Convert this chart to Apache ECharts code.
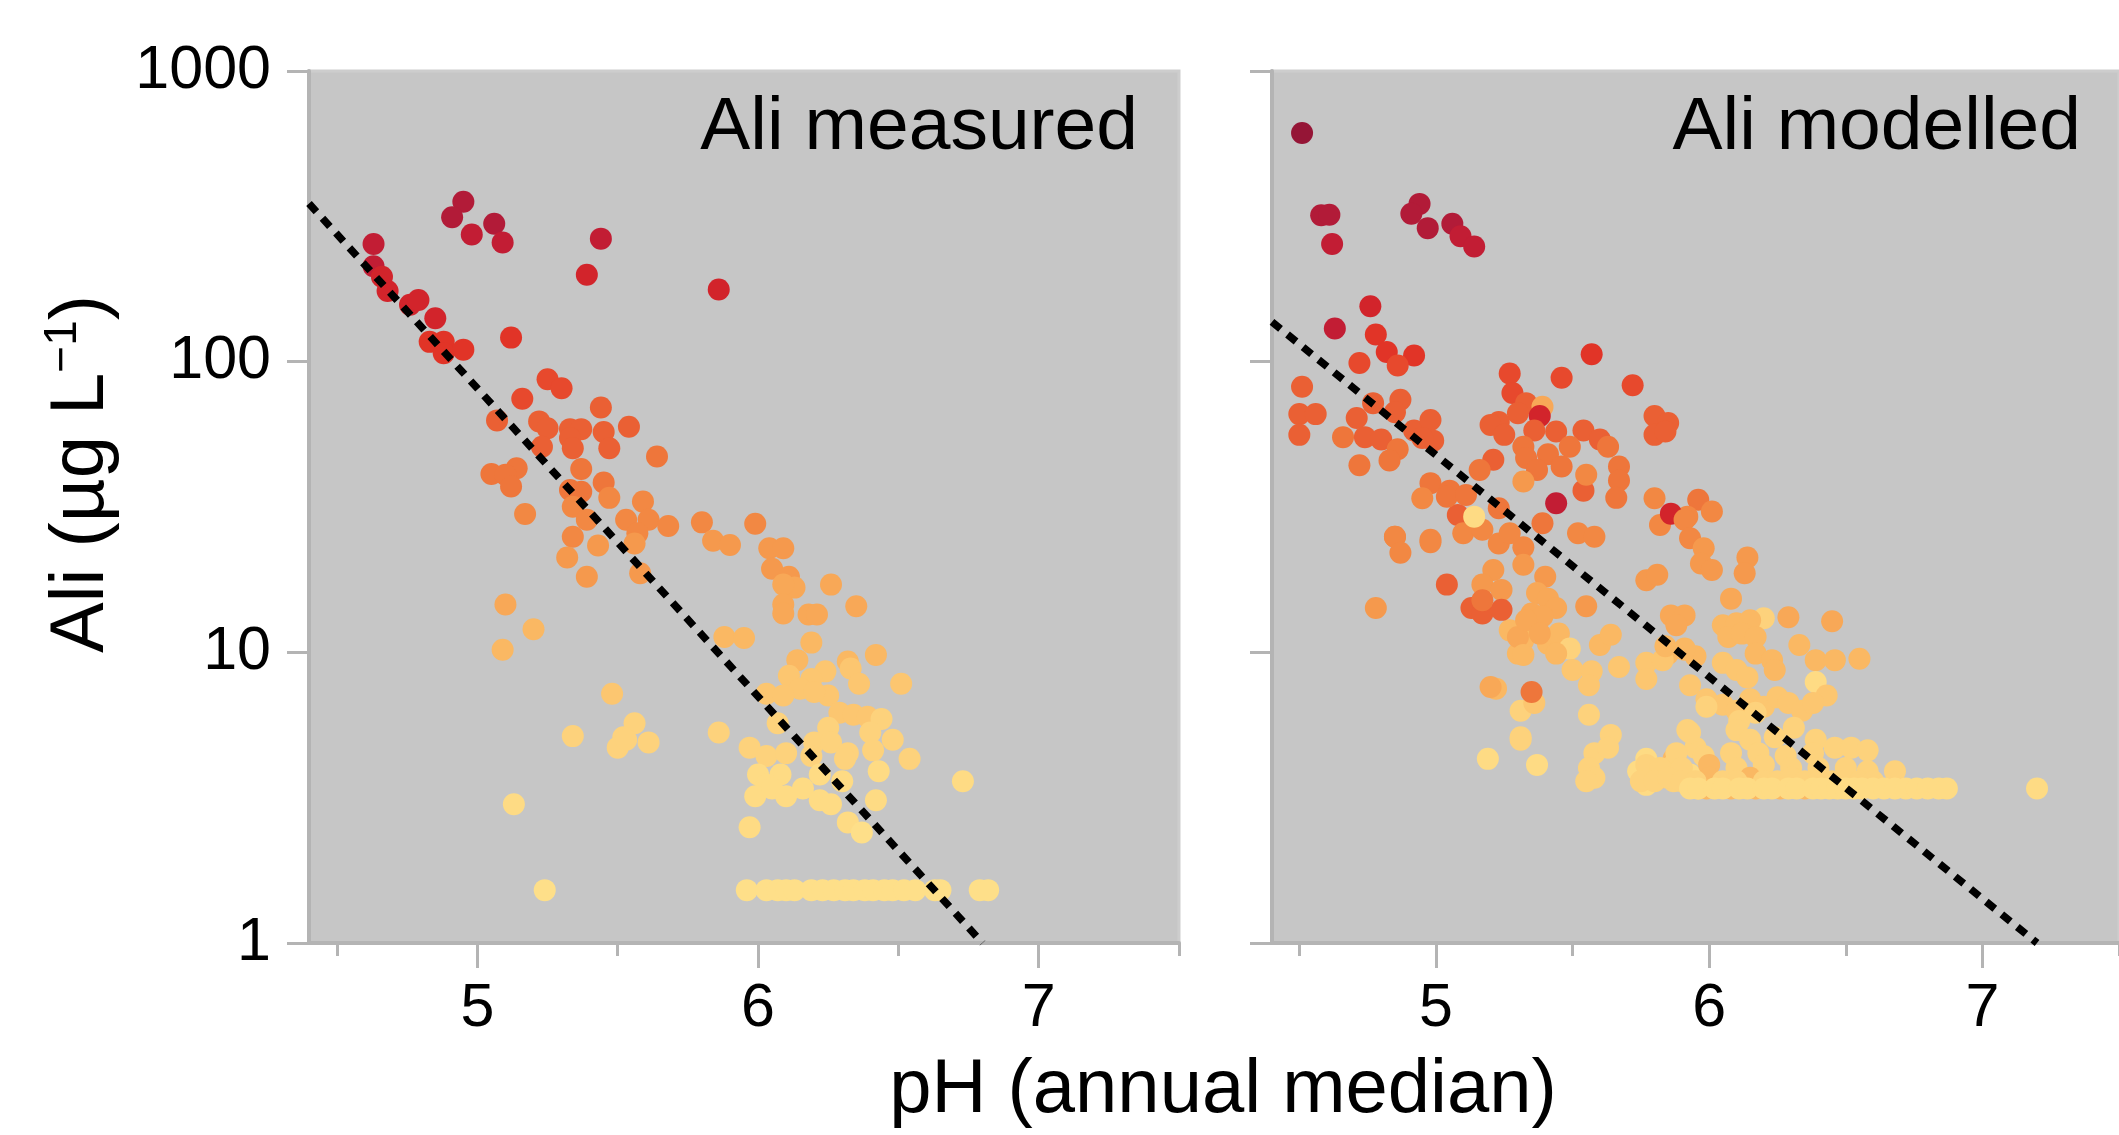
<!DOCTYPE html>
<html>
<head>
<meta charset="utf-8">
<title>Ali vs pH</title>
<script src="https://cdnjs.cloudflare.com/ajax/libs/echarts/6.0.0/echarts.min.js"></script>
<style>
  html, body { margin: 0; padding: 0; background: #fff; }
  #chart { width: 2119px; height: 1135px; }
</style>
</head>
<body>
<div id="chart"></div>
<script>
// measured Ali: [pH, Ali]
const measured = [
  [4.95, 355], [4.91, 314], [4.98, 274], [5.06, 298], [5.09, 257], [5.44, 265], [5.39, 199], [5.86, 177],
  [4.63, 254], [4.63, 213], [4.66, 196], [4.68, 175], [4.76, 157], [4.79, 163], [4.85, 141], [4.83, 117],
  [4.88, 117], [4.88, 107], [4.95, 110], [5.12, 121],
  [5.25, 87], [5.30, 81], [5.16, 74.5], [5.44, 69.5], [5.07, 62.8], [5.22, 62.3], [5.25, 59], [5.54, 59.7],
  [5.33, 58.6], [5.37, 58.6], [5.45, 57.3], [5.33, 54.6], [5.23, 51], [5.34, 50.4], [5.47, 50.4], [5.64, 47.2],
  [5.05, 41.1], [5.14, 43], [5.10, 40.8], [5.12, 37.2], [5.37, 42.7], [5.45, 38.4], [5.47, 34], [5.33, 36.2],
  [5.37, 35.7], [5.34, 31.7], [5.59, 33], [5.17, 29.9], [5.39, 28.6], [5.53, 28.6], [5.61, 28.6], [5.68, 27.2],
  [5.80, 28], [5.99, 27.7], [5.57, 25.7], [5.34, 25], [5.84, 24.2], [5.90, 23.4], [5.43, 23.3], [5.56, 23.7],
  [5.32, 21.2], [5.39, 18.2], [5.58, 18.7], [5.10, 14.6],
  [6.04, 22.8], [6.09, 22.8], [6.05, 19.4], [6.11, 18.2], [6.13, 16.7], [6.09, 17.1], [6.26, 17.1], [6.35, 14.4],
  [6.09, 14.6], [6.09, 13.6], [6.18, 13.5], [6.21, 13.5], [5.88, 11.3], [5.95, 11.2], [6.19, 10.8], [6.42, 9.8],
  [6.14, 9.4], [6.32, 9.3], [6.24, 8.6], [6.33, 8.8], [6.11, 8.3], [6.36, 7.8], [6.51, 7.8], [6.19, 8.1],
  [6.15, 7.5], [6.25, 7.1], [6.03, 7.2], [6.09, 7.1], [6.20, 7.3], [5.48, 7.2], [6.29, 6.2], [6.34, 6.1],
  [6.39, 6.0], [6.44, 5.9], [6.07, 5.7], [6.25, 5.5], [6.40, 5.3], [6.48, 5.0], [5.56, 5.7], [5.52, 5.1],
  [5.61, 4.9], [5.50, 4.7], [5.86, 5.3], [6.20, 4.9], [6.26, 4.9], [5.97, 4.7], [6.03, 4.4], [6.10, 4.5],
  [6.32, 4.5], [6.41, 4.6], [6.54, 4.3], [6.31, 4.3], [6.19, 4.4], [6.00, 3.8], [6.08, 3.8], [6.03, 3.5],
  [5.99, 3.2], [6.05, 3.4], [6.10, 3.2], [6.16, 3.4], [6.22, 3.8], [6.43, 3.9], [6.30, 3.6], [6.22, 3.1],
  [6.26, 3.0], [6.42, 3.1], [6.73, 3.6], [5.97, 2.5], [6.32, 2.6], [6.37, 2.4],
  [5.20, 12.0], [5.09, 10.2], [5.34, 5.15], [5.53, 5.0], [5.13, 3.0],
  [5.24, 1.52], [5.96, 1.52], [6.03, 1.52], [6.07, 1.52], [6.10, 1.52], [6.13, 1.52], [6.19, 1.52], [6.23, 1.52],
  [6.27, 1.52], [6.31, 1.52], [6.34, 1.52], [6.38, 1.52], [6.41, 1.52], [6.45, 1.52], [6.48, 1.52], [6.52, 1.52],
  [6.56, 1.52], [6.63, 1.52], [6.65, 1.52], [6.79, 1.52], [6.82, 1.52]
];

// modelled Ali: [pH, Ali modelled, Ali measured (colour)]
const modelled = [
  [4.51, 612, 612], [4.58, 319, 300], [4.61, 320, 300], [4.62, 254, 260], [4.94, 349, 300], [4.91, 323, 300],
  [4.97, 288, 280], [5.06, 298, 280], [5.09, 270, 260], [5.14, 249, 250],
  [4.76, 155, 150], [4.63, 130, 250], [4.78, 124, 120], [4.82, 108, 100], [4.92, 105, 100], [4.86, 97, 90],
  [4.72, 99, 70], [4.51, 82, 65], [5.57, 106, 110], [5.27, 91, 80], [5.46, 88, 80], [5.72, 83, 75],
  [4.50, 66, 55], [4.56, 66, 55], [4.50, 56, 50], [4.71, 64, 50], [4.66, 55, 45], [4.74, 55, 50], [4.77, 72, 60],
  [4.87, 74, 60], [4.85, 67, 60], [4.80, 54, 50], [4.86, 50, 45], [4.83, 45.7, 40], [4.72, 44, 40], [4.92, 58, 50],
  [4.98, 63, 55], [4.99, 53.5, 50], [4.95, 54.6, 50],
  [5.28, 78, 70], [5.33, 72, 65], [5.30, 66.5, 60], [5.23, 62, 55], [5.20, 60.6, 55], [5.25, 56, 60],
  [5.39, 70, 15], [5.38, 65, 150], [5.36, 58, 50], [5.44, 57.5, 55], [5.54, 58, 50], [5.60, 54, 50], [5.63, 51, 45],
  [5.32, 51, 45], [5.41, 48, 45], [5.49, 51, 45], [5.46, 43.6, 40], [5.33, 46.6, 40], [5.37, 42.4, 40],
  [5.54, 36, 60], [5.55, 40.8, 25], [5.67, 43.6, 40], [5.67, 39, 40], [5.66, 34, 35],
  [5.80, 65, 55], [5.85, 61.5, 55], [5.80, 56, 50], [5.84, 57.5, 50], [5.80, 33.9, 30], [5.96, 33.5, 35],
  [5.92, 29.3, 30], [5.82, 27.4, 30], [5.32, 38.7, 22], [5.21, 46, 50], [5.16, 42.4, 40],
  [4.98, 38.2, 35], [4.95, 33.9, 30], [5.05, 36, 35], [5.08, 29.7, 60], [5.23, 31.3, 35], [5.10, 25.7, 30],
  [5.17, 26.4, 28], [5.04, 34.3, 40], [5.11, 34.8, 35], [4.85, 25, 30], [4.98, 24.4, 25], [5.32, 23, 30],
  [5.52, 25.7, 28], [5.58, 25, 28], [5.39, 27.8, 35], [5.14, 29.3, 3], [5.44, 32.6, 200], [5.86, 30, 150],
  [6.01, 30.5, 28], [5.91, 28.6, 28], [5.93, 24.7, 25], [5.98, 22.8, 22], [5.97, 20.2, 22], [6.01, 19.2, 20],
  [6.14, 21.2, 22], [6.13, 18.7, 20], [5.77, 17.7, 18], [5.81, 18.5, 18], [6.08, 15.3, 16], [5.86, 13.4, 14],
  [5.91, 13.4, 14], [5.88, 12.4, 13], [6.20, 13.1, 5], [6.29, 13.2, 13], [6.45, 12.8, 13], [6.05, 12.4, 12],
  [6.10, 12.6, 12], [6.15, 12.9, 12], [6.07, 11.3, 11], [6.12, 11.6, 11], [6.17, 11.3, 11], [6.33, 10.6, 10],
  [6.39, 9.4, 9], [6.46, 9.4, 9], [6.55, 9.5, 9], [6.17, 9.9, 9], [6.23, 9.4, 9], [6.24, 8.7, 9], [6.39, 7.9, 3],
  [6.43, 7.1, 6], [6.05, 9.2, 8], [6.10, 8.7, 8], [6.14, 8.2, 8], [5.91, 10.2, 9], [5.95, 9.7, 9], [5.85, 9.9, 9],
  [5.77, 9.2, 8], [5.77, 8.1, 8], [5.93, 7.7, 7],
  [5.99, 6.9, 6], [6.05, 6.6, 6], [6.10, 6.3, 6], [6.15, 6.9, 6], [6.20, 6.5, 6], [6.25, 7.0, 6], [6.29, 6.7, 6],
  [6.34, 6.3, 6], [6.38, 6.7, 6], [6.11, 5.8, 5], [6.17, 6.2, 5],
  [5.32, 20, 22], [5.40, 18.2, 20], [5.37, 16, 16], [5.41, 15.3, 16], [5.44, 14.2, 16], [5.35, 13.6, 16],
  [5.39, 13.3, 16], [5.55, 14.4, 20], [5.27, 11.9, 11], [5.32, 11, 11], [5.30, 9.9, 11], [5.41, 10.7, 11],
  [5.45, 11.6, 11], [5.49, 10.3, 5], [5.60, 10.6, 10], [5.64, 11.5, 10], [5.50, 8.7, 8], [5.57, 8.6, 8],
  [5.56, 7.7, 8], [5.67, 8.9, 8], [5.83, 9.4, 8], [5.31, 6.3, 5], [5.36, 6.7, 6], [5.56, 6.1, 5],
  [5.31, 5.1, 4], [5.64, 5.2, 4], [5.22, 7.5, 10], [5.35, 7.3, 40],
  [4.85, 25, 25], [4.87, 22, 25], [4.98, 23.9, 25], [5.23, 23.7, 28], [5.27, 25.7, 28], [5.21, 19.2, 22],
  [5.17, 17.1, 20], [5.24, 16.4, 20], [5.04, 17.1, 50], [4.78, 14.2, 18], [5.13, 14.2, 50], [5.17, 13.6, 50],
  [5.24, 14, 60], [5.17, 15.1, 40], [5.30, 11.3, 15], [5.33, 12.9, 15], [5.38, 11.6, 15], [5.32, 9.8, 12],
  [5.44, 9.9, 9], [5.20, 7.6, 15], [5.31, 5.0, 4], [5.19, 4.3, 3.5], [5.37, 4.1, 3.5],
  [5.58, 4.5, 4], [5.63, 4.7, 4], [5.56, 4.0, 4], [5.58, 3.7, 4], [5.55, 3.6, 4],
  [5.74, 3.9, 3.5], [5.77, 4.3, 3.5], [5.77, 3.5, 3.5], [5.82, 3.7, 3.5], [5.87, 3.7, 3.5], [5.87, 4.3, 10],
  [5.93, 3.8, 3.5], [5.96, 3.4, 3.5], [5.92, 5.4, 5], [5.95, 4.7, 5], [5.99, 6.5, 5], [5.84, 10.5, 10], [5.91, 10.3, 10],
  [5.93, 5.3, 5], [6.10, 5.4, 5], [6.15, 5.0, 5], [6.24, 5.1, 5], [6.31, 5.5, 5], [6.39, 5.0, 5], [6.46, 4.7, 5],
  [6.52, 4.7, 5], [6.58, 4.6, 5], [6.58, 3.9, 4], [6.68, 3.9, 4],
  [5.77, 4.1, 4], [5.82, 3.7, 12], [5.87, 4.1, 4], [5.87, 3.6, 4],
  [5.88, 4.5, 5], [5.98, 4.4, 5], [6.08, 4.5, 5], [6.18, 4.5, 5], [6.28, 4.4, 5], [6.38, 4.5, 5],
  [5.82, 4.0, 4], [5.90, 4.0, 4], [6.00, 4.1, 10], [6.10, 4.0, 4], [6.20, 4.1, 4], [6.30, 4.0, 4], [6.40, 4.0, 4], [6.50, 4.0, 4],
  [5.99, 3.4, 10], [6.08, 3.4, 9], [6.17, 3.4, 11], [6.26, 3.4, 9], [6.35, 3.4, 10], [6.00, 3.7, 9], [6.15, 3.7, 10],
  [5.75, 3.6, 4], [5.80, 3.6, 4], [5.85, 3.7, 4], [5.90, 3.6, 4], [5.95, 3.6, 4], [6.05, 3.6, 4],
  [6.10, 3.6, 4], [6.20, 3.6, 4], [6.25, 3.6, 4], [6.30, 3.7, 4], [6.35, 3.6, 4], [6.40, 3.6, 4],
  [6.45, 3.6, 4], [6.50, 3.6, 4], [6.55, 3.6, 4], [6.60, 3.6, 4],
  [5.93, 3.4, 3], [5.96, 3.4, 3], [6.02, 3.4, 3], [6.05, 3.4, 3], [6.11, 3.4, 3],
  [6.14, 3.4, 3], [6.20, 3.4, 3], [6.23, 3.4, 3], [6.29, 3.4, 3], [6.32, 3.4, 3],
  [6.38, 3.4, 3], [6.41, 3.4, 3], [6.44, 3.4, 3], [6.47, 3.4, 3], [6.50, 3.4, 3], [6.53, 3.4, 3],
  [6.56, 3.4, 3], [6.60, 3.4, 3], [6.64, 3.4, 3], [6.68, 3.4, 3], [6.72, 3.4, 3], [6.76, 3.4, 3], [6.80, 3.4, 3],
  [6.84, 3.4, 3], [6.87, 3.4, 3], [7.20, 3.4, 3]
];

// regression lines (end points)
const fitMeasured = [[4.4, 350], [6.8, 1]];
const fitModelled = [[4.4, 137], [7.2, 1]];

const xMajorTicks = [5, 6, 7];
const xMinorTicks = [4.5, 5.5, 6.5, 7.5];
const panelTitles = ['Ali measured', 'Ali modelled'];

// colour classes (Ali, µg/L) - YlOrRd
const colourBreaks = [2.5, 4, 6, 9, 13, 18, 25, 35, 50, 70, 100, 140, 200, 280, 400];
const colourRamp = ['#fedf89', '#fedb84', '#fdd27c', '#fcc670', '#fab863', '#f8a857', '#f5994d', '#f28843',
  '#ee763b', '#ea6034', '#e7492d', '#e13427', '#d2242b', '#c21d34', '#b21b38', '#951536'];

const FONT = "'Liberation Sans', Arial, sans-serif";
const AXIS_GREY = '#b4b4b4';

const pieces = colourRamp.map((c, i) => {
  const p = { color: c };
  if (i > 0) p.gte = colourBreaks[i - 1];
  if (i < colourBreaks.length) p.lt = colourBreaks[i];
  return p;
});

const chart = echarts.init(document.getElementById('chart'));

const gridLefts = [309, 1272];

const xAxes = [];
const yAxes = [];
gridLefts.forEach((l, i) => {
  xAxes.push({
    gridIndex: i, type: 'value', position: 'bottom', min: 4.4, max: 7.5,
    axisLine: { show: true, onZero: false, lineStyle: { color: AXIS_GREY, width: 4 } },
    axisTick: { show: true, length: 25, customValues: xMajorTicks, lineStyle: { color: AXIS_GREY, width: 3 } },
    axisLabel: { customValues: xMajorTicks, fontSize: 61, margin: 36, color: '#000', fontFamily: FONT },
    splitLine: { show: false }
  });
  xAxes.push({
    gridIndex: i, type: 'value', position: 'bottom', min: 4.4, max: 7.5,
    axisLine: { show: false },
    axisTick: { show: true, length: 13, customValues: xMinorTicks, lineStyle: { color: AXIS_GREY, width: 3 } },
    axisLabel: { show: false },
    splitLine: { show: false }
  });
  yAxes.push({
    gridIndex: i, type: 'log', logBase: 10, min: 1, max: 1000,
    axisLine: { show: true, lineStyle: { color: AXIS_GREY, width: 4 } },
    axisTick: { show: true, length: 22, lineStyle: { color: AXIS_GREY, width: 3 } },
    axisLabel: {
      show: i === 0, fontSize: 61, margin: 38, color: '#000', fontFamily: FONT,
      formatter: v => String(Math.round(v))
    },
    splitLine: { show: false }
  });
});

const lineStyle = { color: '#000', width: 7.5, type: [11, 9] };

const option = {
  animation: false,
  grid: gridLefts.map(l => ({
    left: l, top: 71, width: 870, height: 872,
    show: true, backgroundColor: '#c6c6c6', borderColor: '#cdcdcd', borderWidth: 3
  })),
  xAxis: xAxes,
  yAxis: yAxes,
  visualMap: [
    { type: 'piecewise', show: false, seriesIndex: 0, dimension: 1, pieces: pieces },
    { type: 'piecewise', show: false, seriesIndex: 2, dimension: 2, pieces: pieces }
  ],
  series: [
    { type: 'scatter', xAxisIndex: 0, yAxisIndex: 0, data: measured, symbolSize: 22, itemStyle: { opacity: 1 } },
    { type: 'line', xAxisIndex: 0, yAxisIndex: 0, data: fitMeasured, showSymbol: false, lineStyle: lineStyle, z: 5 },
    { type: 'scatter', xAxisIndex: 2, yAxisIndex: 1, data: modelled, symbolSize: 22, itemStyle: { opacity: 1 } },
    { type: 'line', xAxisIndex: 2, yAxisIndex: 1, data: fitModelled, showSymbol: false, lineStyle: lineStyle, z: 5 }
  ],
  graphic: [
    { type: 'text', x: 1138, y: 128, z: 10,
      style: { text: panelTitles[0], fill: '#000', font: '75px ' + FONT, align: 'right', verticalAlign: 'middle' } },
    { type: 'text', x: 2081, y: 128, z: 10,
      style: { text: panelTitles[1], fill: '#000', font: '75px ' + FONT, align: 'right', verticalAlign: 'middle' } },
    { type: 'text', x: 1223, y: 1091, z: 10,
      style: { text: 'pH (annual median)', fill: '#000', font: '76px ' + FONT, align: 'center', verticalAlign: 'middle' } },
    { type: 'text', x: 80, y: 474, rotation: Math.PI / 2, z: 10,
      style: {
        text: '{a|Ali (µg L}{b|−1}{a|)}', align: 'center', verticalAlign: 'middle',
        rich: {
          a: { fontSize: 76, fontFamily: FONT, fill: '#000', lineHeight: 80, verticalAlign: 'bottom' },
          b: { fontSize: 46, fontFamily: FONT, fill: '#000', lineHeight: 46, verticalAlign: 'top' }
        }
      } }
  ]
};

chart.setOption(option);
window.addEventListener('resize', () => chart.resize());
</script>
</body>
</html>
